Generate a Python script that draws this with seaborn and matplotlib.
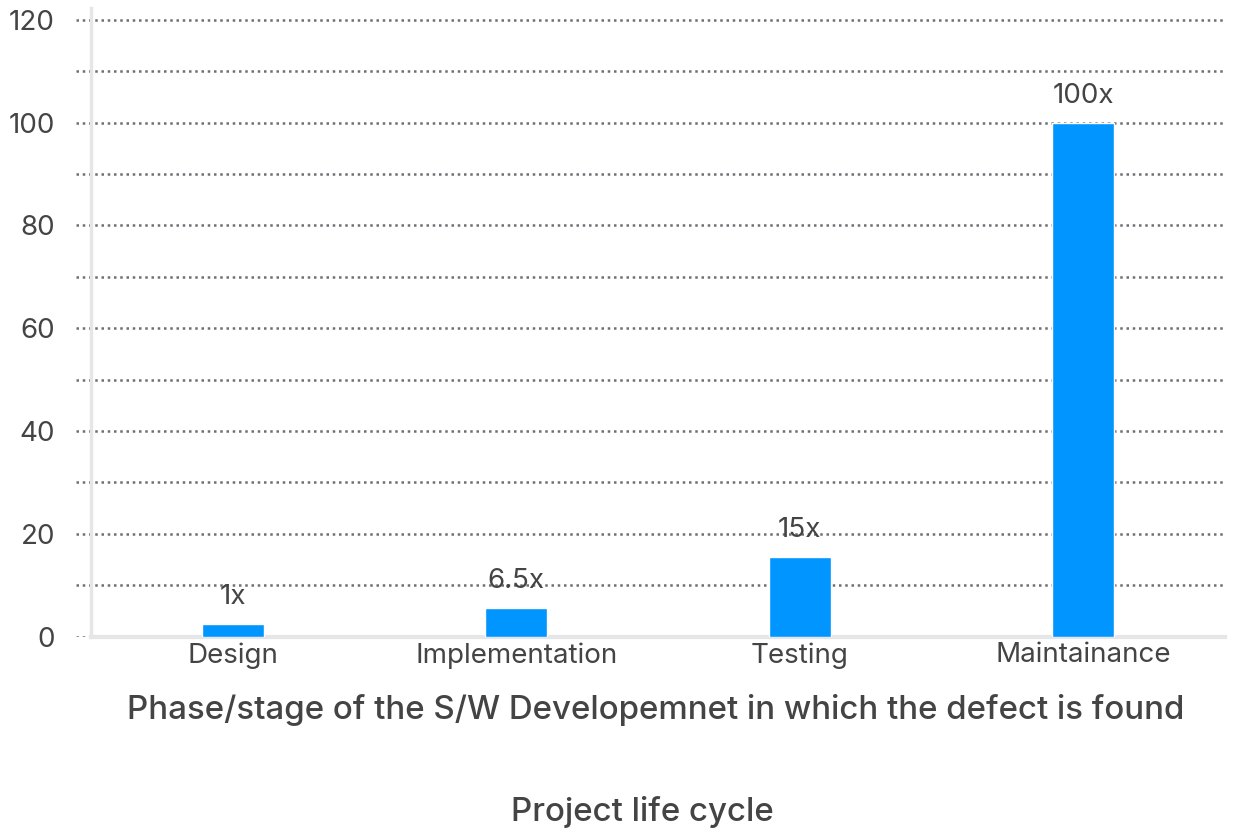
import matplotlib
matplotlib.use("Agg")
import matplotlib.pyplot as plt
import seaborn as sns
import pandas as pd

# Data
phases = ["Design", "Implementation", "Testing", "Maintainance"]
relative_cost = [2.5, 5.6, 15.5, 100]
cost_labels = ["1x", "6.5x", "15x", "100x"]

sns.set_style("white")
plt.rcParams['font.family'] = ['Inter', 'DejaVu Sans']

text_col = '#444444'
bar_col = '#0095ff'

df = pd.DataFrame({'phase': phases, 'cost': relative_cost})

fig = plt.figure(figsize=(12.37, 8.31), dpi=100)
ax = fig.add_axes([76 / 1237, 1 - 636.7 / 831, (1225 - 76) / 1237, (636.7 - 8) / 831])

sns.barplot(data=df, x='phase', y='cost', color=bar_col, width=0.22,
            saturation=1, ax=ax, zorder=3)

ax.bar_label(ax.containers[0], labels=cost_labels, padding=10,
             fontsize=20, color=text_col)

ax.set_xlim(-0.553, 3.5)
ax.set_ylim(0, 122.3)
ax.set_yticks(range(0, 121, 20))
ax.set_yticks(range(10, 120, 20), minor=True)
ax.grid(axis='y', which='both', linestyle=(0, (1, 1.5)), linewidth=1.8,
        color='#6e6e75', zorder=0)
ax.grid(axis='x', visible=False)

for s in ['top', 'right']:
    ax.spines[s].set_visible(False)
ax.spines['left'].set_position(('data', -0.5))
ax.spines['left'].set_color('#e6e6e8')
ax.spines['left'].set_linewidth(2.5)
ax.spines['bottom'].set_color('#e6e6e8')
ax.spines['bottom'].set_linewidth(3)
ax.spines['bottom'].set_bounds(-0.5, 3.5)

ax.tick_params(axis='y', which='both', length=0, pad=26, labelsize=20,
               labelcolor=text_col)
ax.tick_params(axis='x', length=0, pad=4, labelsize=20, labelcolor=text_col)
ax.set_xlabel('')
ax.set_ylabel('')

fig.text(656 / 1237, 1 - 710 / 831,
         'Phase/stage of the S/W Developemnet in which the defect is found',
         ha='center', va='center', fontsize=23.8, fontweight='medium',
         color=text_col)
fig.text(642 / 1237, 1 - 812 / 831, 'Project life cycle',
         ha='center', va='center', fontsize=23.8, fontweight='medium',
         color=text_col)

fig.savefig('out.png', dpi=100)
